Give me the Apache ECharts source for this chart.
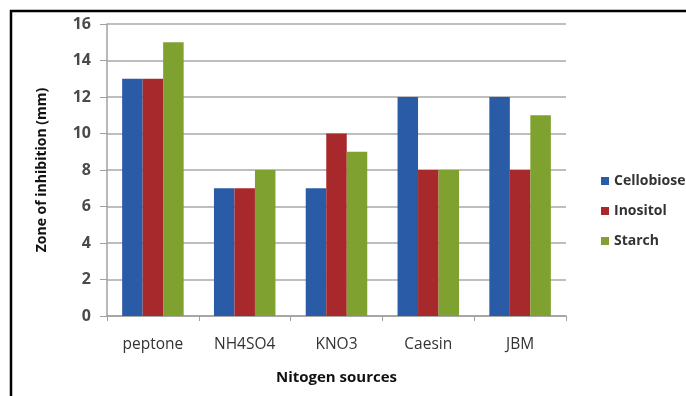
<!DOCTYPE html>
<html><head><meta charset="utf-8">
<script src="https://cdn.jsdelivr.net/npm/echarts@6/dist/echarts.min.js"></script>
<style>html,body{margin:0;padding:0;background:#fff}#c{width:686px;height:396px}</style>
</head><body><div id="c"></div>
<script>
const categories = ['peptone', 'NH4SO4', 'KNO3', 'Caesin', 'JBM'];
const cellobiose = [13, 7, 7, 12, 12];
const inositol = [13, 7, 10, 8, 8];
const starch = [15, 8, 9, 8, 11];
const seriesNames = ['Cellobiose', 'Inositol', 'Starch'];
const yTicks = { min: 0, max: 16, interval: 2 };

const colors = ['#2a5ba6', '#a8292b', '#7ea12f'];
const chart = echarts.init(document.getElementById('c'), null, {renderer: 'canvas'});
const font = '"Open Sans", "DejaVu Sans", sans-serif';
const mk = (name, data, i) => ({
  name, type: 'bar', data, barGap: '0%', barCategoryGap: '33%',
  itemStyle: {color: colors[i]}
});
chart.setOption({
  animation: false,
  textStyle: {fontFamily: font},
  grid: {left: 107, right: 120, top: 24, bottom: 80},
  legend: {
    orient: 'vertical', left: 596, top: 169, itemGap: 16,
    itemWidth: 8, itemHeight: 8, icon: 'rect',
    textStyle: {fontFamily: font, fontSize: 14, fontWeight: 'bold', color: '#333'},
    data: seriesNames
  },
  xAxis: {
    type: 'category', data: categories,
    name: 'Nitogen sources', nameLocation: 'middle', nameGap: 54,
    nameTextStyle: {fontFamily: font, fontSize: 15, fontWeight: 'bold', color: '#111'},
    axisLine: {lineStyle: {color: '#a0a0a0', width: 1.5}},
    axisTick: {show: true, length: 5, alignWithLabel: false, lineStyle: {color: '#a0a0a0'}},
    axisLabel: {fontFamily: font, fontSize: 15.5, color: '#333', margin: 21}
  },
  yAxis: {
    type: 'value', min: yTicks.min, max: yTicks.max, interval: yTicks.interval,
    name: 'Zone of inhibition (mm)', nameLocation: 'middle', nameGap: 58,
    nameTextStyle: {fontFamily: font, fontSize: 14, fontWeight: 'bold', color: '#111'},
    axisLine: {show: true, lineStyle: {color: '#a0a0a0', width: 1.5}},
    axisTick: {show: true, length: 7, inside: false, lineStyle: {color: '#a0a0a0'}},
    axisLabel: {fontFamily: font, fontSize: 16, fontWeight: 'bold', color: '#4a4a4a', margin: 16},
    splitLine: {lineStyle: {color: '#a8a8a8', width: 1.5}}
  },
  series: [mk(seriesNames[0], cellobiose, 0), mk(seriesNames[1], inositol, 1), mk(seriesNames[2], starch, 2)],
  graphic: [
    {type: 'line', shape: {x1: 10, y1: 11, x2: 686, y2: 11}, style: {stroke: '#000', lineWidth: 2.5}, z: 100},
    {type: 'line', shape: {x1: 11, y1: 10, x2: 11, y2: 396}, style: {stroke: '#000', lineWidth: 2.5}, z: 100}
  ]
});
</script></body></html>
